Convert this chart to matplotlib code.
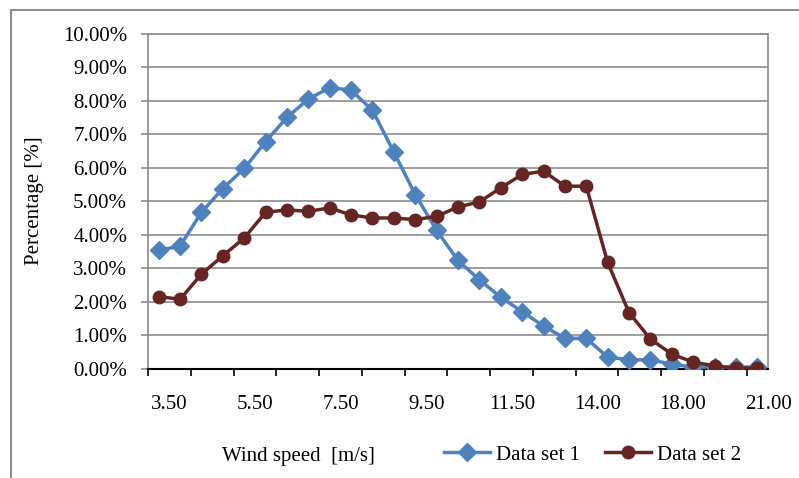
import matplotlib
matplotlib.use("Agg")
import matplotlib.pyplot as plt
import matplotlib.transforms as mtransforms
from matplotlib.lines import Line2D
from matplotlib.ticker import FixedLocator, PercentFormatter

# wind speed bins (category axis, labels every 4th bin)
wind_speed = [3.5, 4.0, 4.5, 5.0, 5.5, 6.0, 6.5, 7.0, 7.5, 8.0, 8.5, 9.0, 9.5, 10.0,
              10.5, 11.0, 11.5, 12.0, 12.5, 13.0, 14.0, 15.0, 16.0, 17.0, 18.0,
              19.0, 19.5, 20.0, 21.0]

data_set_1 = [3.53, 3.66, 4.67, 5.38, 5.98, 6.78, 7.51, 8.05, 8.40, 8.32, 7.72, 6.47,
              5.20, 4.13, 3.23, 2.65, 2.13, 1.70, 1.27, 0.90, 0.90, 0.34, 0.26, 0.26,
              0.13, 0.04, 0.05, 0.04, 0.05]

data_set_2 = [2.15, 2.07, 2.82, 3.37, 3.90, 4.67, 4.74, 4.70, 4.80, 4.59, 4.50, 4.50,
              4.45, 4.55, 4.83, 4.98, 5.40, 5.80, 5.90, 5.45, 5.45, 3.17, 1.67, 0.88,
              0.43, 0.19, 0.08, 0.01, 0.01]

series_names = ["Data set 1", "Data set 2"]
colors = ["#4F81BD", "#652523"]

plt.rcParams['font.family'] = ['Liberation Serif', 'DejaVu Serif']
FS = 15

W, H = 799, 478
fig = plt.figure(figsize=(W / 100, H / 100), dpi=100)

# plot area in pixel coords
left, right, top, bottom = 148, 768, 34, 368.5
ax = fig.add_axes([left / W, 1 - bottom / H, (right - left) / W, (bottom - top) / H])

x = list(range(len(wind_speed)))
ax.plot(x, data_set_1, color=colors[0], lw=2.5, marker='D', ms=9,
        label=series_names[0], zorder=3)
ax.plot(x, data_set_2, color=colors[1], lw=2.5, marker='o', ms=9,
        label=series_names[1], zorder=4)

ax.set_xlim(-0.5, len(wind_speed) - 0.5)
ax.set_ylim(0, 10)
ax.yaxis.set_major_locator(FixedLocator(range(0, 11)))
ax.yaxis.set_major_formatter(PercentFormatter(decimals=2))
ax.grid(axis='y', color='#8c8c8c', lw=1.2)
ax.set_axisbelow(True)

# x labels every 4 bins, tick marks every 2 bins at category edges
ax.set_xticks(x[::4])
ax.set_xticklabels([f"{v:.2f}" for v in wind_speed[::4]])
ax.set_xticks([i - 0.5 for i in range(0, len(wind_speed), 2)], minor=True)
ax.tick_params(axis='x', which='major', length=0, pad=19, labelsize=FS)
ax.tick_params(axis='x', which='minor', length=5, width=1.2, color='black', direction='out')
ax.tick_params(axis='y', length=5, width=1.2, color='#8c8c8c', pad=10, labelsize=FS)

# labels sit a little right of the category centres, as in the original
shift = mtransforms.ScaledTranslation(11 / 100, 0, fig.dpi_scale_trans)
for lbl in ax.get_xticklabels():
    lbl.set_transform(lbl.get_transform() + shift)

for side in ['left', 'top', 'right']:
    ax.spines[side].set_color('#8c8c8c')
    ax.spines[side].set_linewidth(1.2)
ax.spines['bottom'].set_color('black')
ax.spines['bottom'].set_linewidth(1.5)

fig.text(35 / W, 1 - 201 / H, "Percentage [%]", rotation=90, ha='center', va='center', fontsize=FS)
fig.text(298 / W, 1 - 456 / H, "Wind speed  [m/s]", ha='center', va='center', fontsize=FS)

fig.legend(loc='center left', bbox_to_anchor=(444 / W, 1 - 455 / H), ncol=2, frameon=False,
           fontsize=FS, handlelength=2.2, handletextpad=0.3, columnspacing=1.2,
           borderpad=0, borderaxespad=0)

# chart area border (left and top edges only visible)
fig.add_artist(Line2D([11 / W, 11 / W], [0, 1 - 10 / H], color='#8c8c8c', lw=1.5,
                      transform=fig.transFigure))
fig.add_artist(Line2D([11 / W, 1], [1 - 10 / H, 1 - 10 / H], color='#8c8c8c', lw=1.5,
                      transform=fig.transFigure))

fig.savefig("out.png", dpi=100)
